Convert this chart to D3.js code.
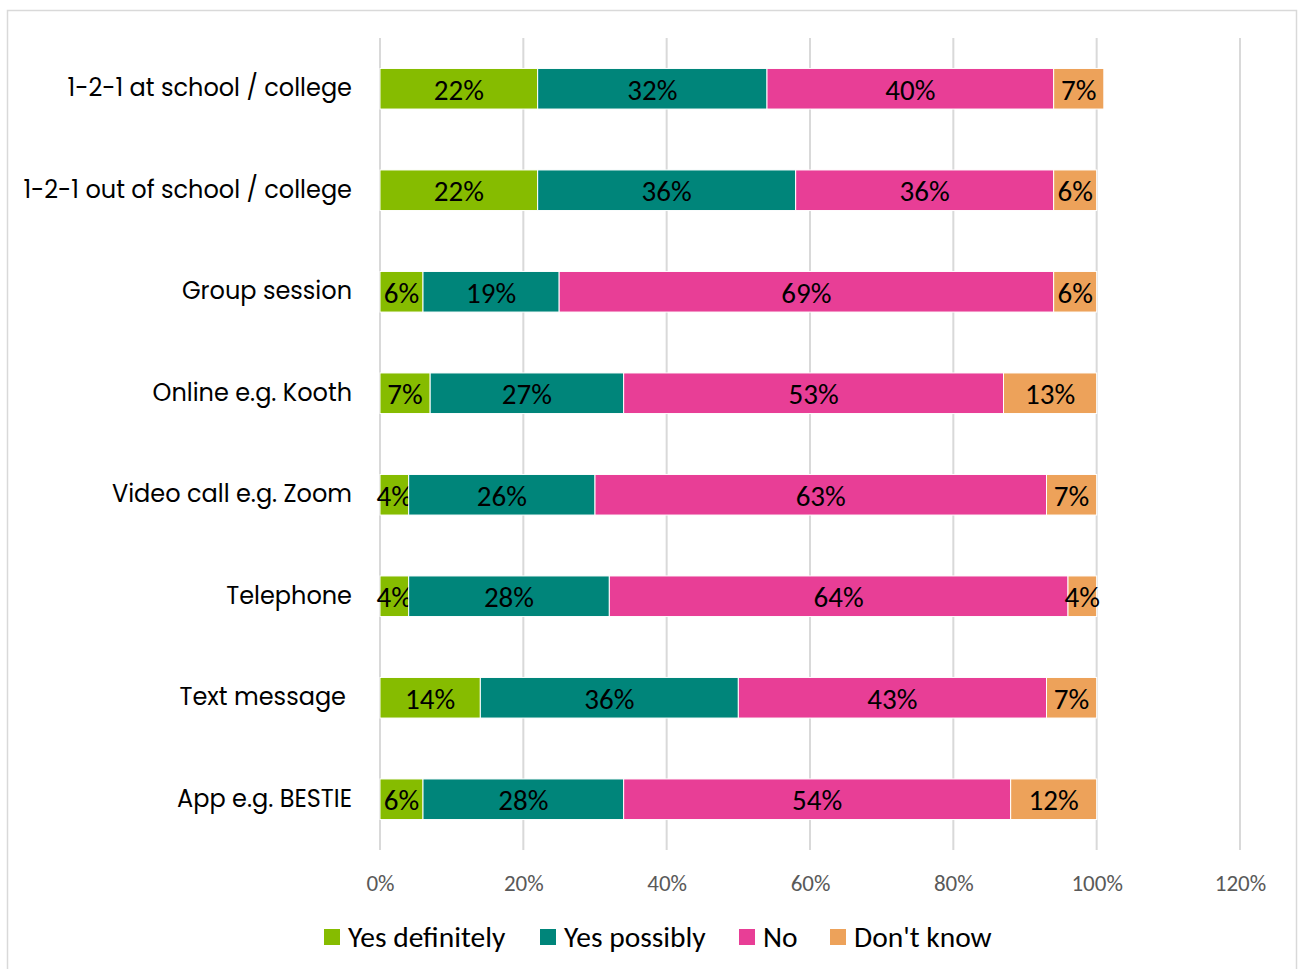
<!DOCTYPE html>
<html>
<head>
<meta charset="utf-8">
<script src="https://cdn.jsdelivr.net/npm/d3@7"></script>
<style>
  body { margin: 0; background: #fff; }
  .cat { font-family: Poppins, "Open Sans", Lato, sans-serif; font-size: 24px; fill: #000; }
  .lbl { font-family: Carlito, Lato, "Open Sans", sans-serif; font-size: 29px; fill: #000; }
  .tick text { font-family: Carlito, Lato, "Open Sans", sans-serif; font-size: 23px; fill: #595959; }
  .leg { font-family: Carlito, Lato, "Open Sans", sans-serif; font-size: 29.5px; fill: #000; }
</style>
</head>
<body>
<svg id="chart" width="1303" height="969"></svg>
<script>
// data
var categories = ["1-2-1 at school / college", "1-2-1 out of school / college", "Group session",
    "Online e.g. Kooth", "Video call e.g. Zoom", "Telephone", "Text message", "App e.g. BESTIE"];
var seriesNames = ["Yes definitely", "Yes possibly", "No", "Don't know"];
var yesDefinitely = [22, 22, 6, 7, 4, 4, 14, 6];
var yesPossibly   = [32, 36, 19, 27, 26, 28, 36, 28];
var noAnswer      = [40, 36, 69, 53, 63, 64, 43, 54];
var dontKnow      = [7, 6, 6, 13, 7, 4, 7, 12];
var tickValues = [0, 20, 40, 60, 80, 100, 120];
var colors = ["#86bc00", "#00857a", "#e83e96", "#eda25a"];

(function() {
    var svg = d3.select("#chart");

    // outer frame
    svg.append("rect")
        .attr("x", 7.5).attr("y", 10.5)
        .attr("width", 1289).attr("height", 970)
        .attr("fill", "none").attr("stroke", "#d9d9d9").attr("stroke-width", 1.5);

    var plotL = 380, plotR = 1240, plotT = 38, plotB = 850;

    var x = d3.scaleLinear().domain([0, 120]).range([plotL, plotR]);
    var y = d3.scaleBand().domain(categories).range([plotT, plotB]).paddingInner(0.6).paddingOuter(0.3);

    // gridlines
    svg.append("g").selectAll("line")
        .data(tickValues).enter().append("line")
        .attr("x1", d => x(d)).attr("x2", d => x(d))
        .attr("y1", plotT).attr("y2", plotB)
        .attr("stroke", "#d9d9d9").attr("stroke-width", 2);

    // x axis tick labels
    var axis = svg.append("g")
        .attr("transform", "translate(0," + (plotB + 30) + ")")
        .call(d3.axisBottom(x).tickValues(tickValues).tickFormat(d => d + "%").tickSize(0));
    axis.select(".domain").remove();
    axis.selectAll("text").attr("dy", "0.35em");

    // stack
    var table = categories.map(function(c, i) {
        return {cat: c, "Yes definitely": yesDefinitely[i], "Yes possibly": yesPossibly[i],
                "No": noAnswer[i], "Don't know": dontKnow[i]};
    });
    var stacked = d3.stack().keys(seriesNames)(table);

    var layers = svg.append("g").selectAll("g")
        .data(stacked).enter().append("g")
        .attr("fill", (d, i) => colors[i]);

    layers.selectAll("rect")
        .data(d => d).enter().append("rect")
        .attr("x", d => x(d[0]))
        .attr("y", d => y(d.data.cat))
        .attr("width", d => x(d[1]) - x(d[0]))
        .attr("height", y.bandwidth())
        .attr("stroke", "#fff").attr("stroke-width", 1);

    layers.selectAll("text")
        .data(d => d).enter().append("text")
        .attr("class", "lbl")
        .attr("fill", "#000")
        .attr("x", d => (x(d[0]) + x(d[1])) / 2)
        .attr("y", d => y(d.data.cat) + y.bandwidth() / 2 + 1)
        .attr("text-anchor", "middle")
        .attr("dy", "0.35em")
        .text(d => (d[1] - d[0]) + "%");

    // category labels
    svg.append("g").selectAll("text")
        .data(categories).enter().append("text")
        .attr("class", "cat")
        .attr("x", d => d === "Text message" ? 346 : 352)
        .attr("y", d => y(d) + y.bandwidth() / 2 - 1)
        .attr("text-anchor", "end")
        .attr("dy", "0.35em")
        .text(d => d);

    // legend
    var legX = [324, 540, 739, 830];
    var leg = svg.append("g").selectAll("g")
        .data(seriesNames).enter().append("g")
        .attr("transform", (d, i) => "translate(" + legX[i] + ",929)");
    leg.append("rect")
        .attr("width", 16).attr("height", 16)
        .attr("fill", (d, i) => colors[i]);
    leg.append("text")
        .attr("class", "leg")
        .attr("x", 24).attr("y", 8)
        .attr("dy", "0.35em")
        .text(d => d);
})();
</script>
</body>
</html>
